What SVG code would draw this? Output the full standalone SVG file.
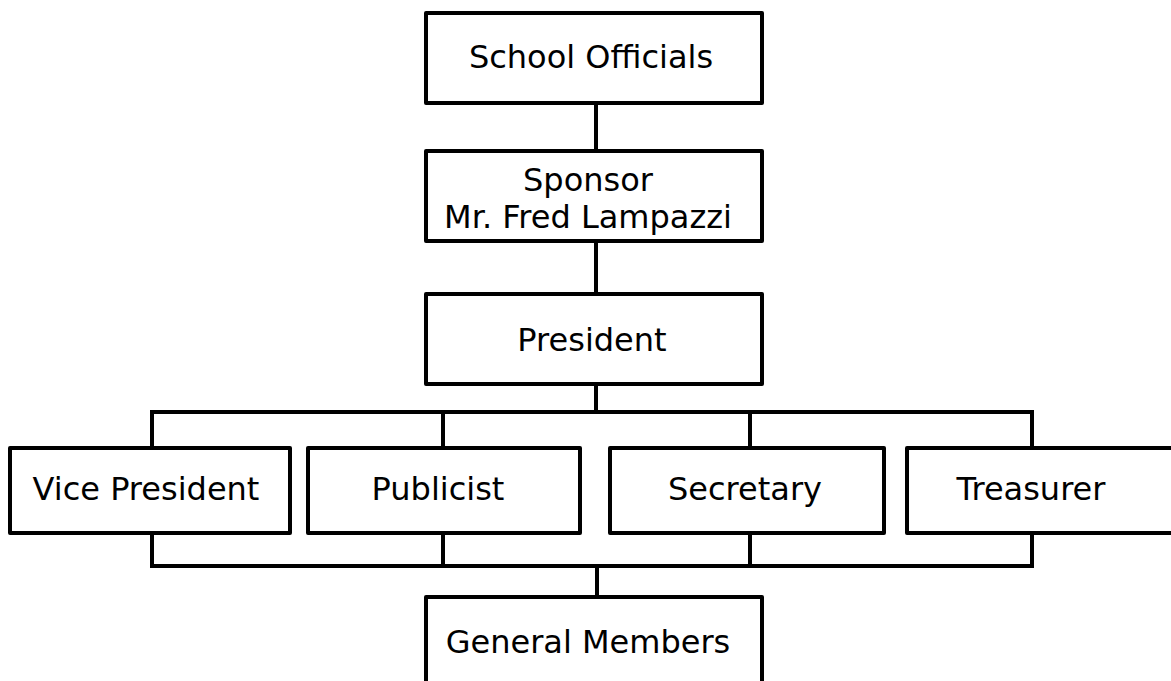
<svg xmlns="http://www.w3.org/2000/svg" width="1171" height="681" viewBox="0 0 1171 681">
<style>
.box{fill:#fff;stroke:#000;stroke-width:4;stroke-linejoin:round}
.lbl{font-family:"DejaVu Sans",sans-serif;font-size:32px;fill:#000;text-anchor:middle}
.con{fill:none;stroke:#000;stroke-width:4}
</style>
<rect width="1171" height="681" fill="#fff"/>
<g id="connectors">
<line class="con" x1="596" y1="103" x2="596" y2="151"/>
<line class="con" x1="596" y1="241" x2="596" y2="294"/>
<line class="con" x1="596" y1="384" x2="596" y2="412"/>
<polyline class="con" points="152,448 152,412 1032,412 1032,448"/>
<line class="con" x1="443" y1="412" x2="443" y2="448"/>
<line class="con" x1="750" y1="412" x2="750" y2="448"/>
<polyline class="con" points="152,533 152,566 1032,566 1032,533"/>
<line class="con" x1="443" y1="533" x2="443" y2="566"/>
<line class="con" x1="750" y1="533" x2="750" y2="566"/>
<line class="con" x1="597" y1="566" x2="597" y2="597"/>
</g>
<g id="school-officials"><rect class="box" x="426" y="13" width="336" height="90"/><text class="lbl" x="591" y="68">School Officials</text></g>
<g id="sponsor"><rect class="box" x="426" y="151" width="336" height="90"/><text class="lbl" x="588" y="191">Sponsor</text><text class="lbl" x="588" y="228">Mr. Fred Lampazzi</text></g>
<g id="president"><rect class="box" x="426" y="294" width="336" height="90"/><text class="lbl" x="592" y="351">President</text></g>
<g id="vice-president"><rect class="box" x="10" y="448" width="280" height="85"/><text class="lbl" x="146" y="500">Vice President</text></g>
<g id="publicist"><rect class="box" x="308" y="448" width="272" height="85"/><text class="lbl" x="438" y="500">Publicist</text></g>
<g id="secretary"><rect class="box" x="610" y="448" width="274" height="85"/><text class="lbl" x="745" y="500">Secretary</text></g>
<g id="treasurer"><rect class="box" x="907" y="448" width="266" height="85"/><text class="lbl" x="1031" y="500">Treasurer</text></g>
<g id="general-members"><rect class="box" x="426" y="597" width="336" height="100"/><text class="lbl" x="588" y="653">General Members</text></g>
</svg>
